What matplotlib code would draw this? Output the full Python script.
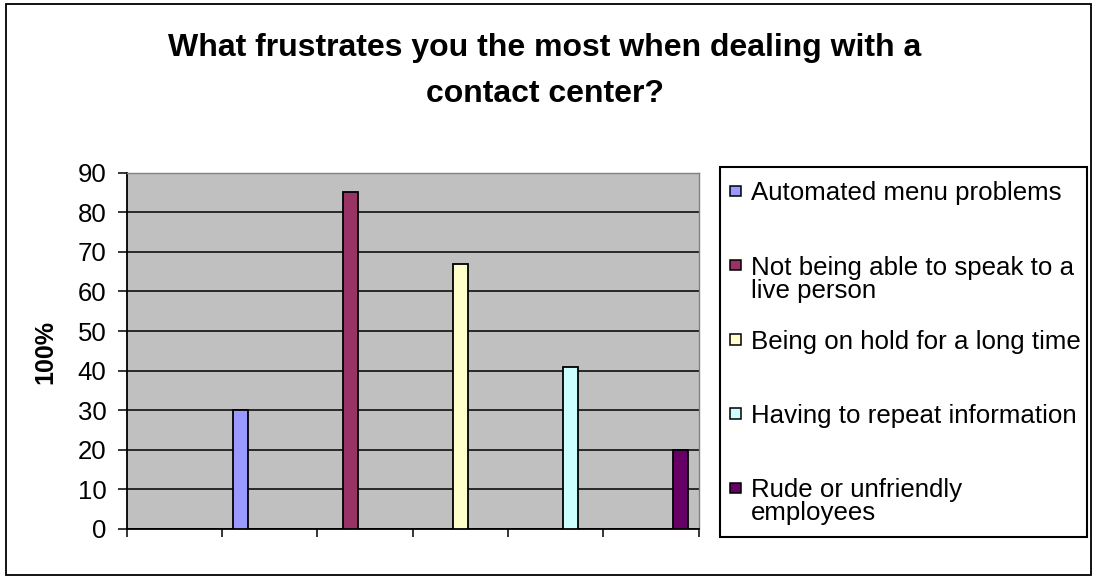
import numpy as np
import matplotlib
matplotlib.use("Agg")
import matplotlib.pyplot as plt
from matplotlib.patches import Rectangle

plt.rcParams['font.family'] = ['Liberation Sans', 'DejaVu Sans']

title = "What frustrates you the most when dealing with a\ncontact center?"
y_label = "100%"
n_categories = 6
series_names = [
    "Automated menu problems",
    "Not being able to speak to a\nlive person",
    "Being on hold for a long time",
    "Having to repeat information",
    "Rude or unfriendly\nemployees",
]
nan = np.nan
automated_menu = [nan, 30, nan, nan, nan, nan]
no_live_person = [nan, nan, 85, nan, nan, nan]
on_hold = [nan, nan, nan, 67, nan, nan]
repeat_info = [nan, nan, nan, nan, 41, nan]
rude_staff = [nan, nan, nan, nan, nan, 20]
series_values = [automated_menu, no_live_person, on_hold, repeat_info, rude_staff]
series_colors = ["#9999FF", "#993366", "#FFFFCC", "#CCFFFF", "#660066"]
y_ticks = [0, 10, 20, 30, 40, 50, 60, 70, 80, 90]

W, H = 1097, 578
fig = plt.figure(figsize=(W / 100, H / 100), dpi=100)

# outer chart border
fig.patches.append(Rectangle((6 / W, 3 / H), (1091 - 6) / W, (574 - 3) / H,
                             transform=fig.transFigure, fill=False,
                             edgecolor="black", linewidth=1.3))

left, right, top, bottom = 126.7, 698.7, 172.7, 529.0
ax = fig.add_axes([left / W, 1 - bottom / H, (right - left) / W, (bottom - top) / H])
ax.set_facecolor("#C0C0C0")

n_series = len(series_values)
gap = 1.5
bw = 1.0 / (n_series + gap)
cats = np.arange(n_categories)
for i, (vals, col) in enumerate(zip(series_values, series_colors)):
    vals = np.array(vals, dtype=float)
    m = np.isfinite(vals)
    x = cats + 0.5 + (i - (n_series - 1) / 2) * bw
    ax.bar(x[m], vals[m], width=bw, color=col, edgecolor="black", linewidth=1.3, zorder=3)

ax.set_xlim(0, n_categories)
ax.set_ylim(0, 90)
ax.set_yticks(y_ticks)
ax.set_xticks(np.arange(n_categories + 1))
ax.set_xticklabels([])
ax.yaxis.grid(True, color="black", linewidth=1.1, zorder=1)
ax.set_axisbelow(True)
ax.tick_params(axis='y', direction='out', length=6.5, width=1.1, labelsize=18.5, pad=8)
ax.tick_params(axis='x', direction='out', length=6, width=1.1)
for s in ["top", "right"]:
    ax.spines[s].set_color("#808080")
    ax.spines[s].set_linewidth(1.0)
for s in ["left", "bottom"]:
    ax.spines[s].set_color("black")
    ax.spines[s].set_linewidth(1.3)

fig.text(45 / W, 1 - 352 / H, y_label, rotation=90, ha="center", va="center",
         fontsize=18, fontweight="bold")

fig.text(545 / W, 1 - 71 / H, title, ha="center", va="center", fontsize=23,
         fontweight="bold", linespacing=1.72)

# legend box
lx0, ly0, lx1, ly1 = 720, 167, 1087, 537
fig.patches.append(Rectangle((lx0 / W, 1 - ly1 / H), (lx1 - lx0) / W, (ly1 - ly0) / H,
                             transform=fig.transFigure, facecolor="white",
                             edgecolor="black", linewidth=1.5, zorder=5))
first_center = 191
step = 74.2
sq = 10.5
fs = 18.6
for i, (name, col) in enumerate(zip(series_names, series_colors)):
    yc = first_center + i * step
    fig.patches.append(Rectangle((730 / W, 1 - (yc + sq / 2) / H), sq / W, sq / H,
                                 transform=fig.transFigure, facecolor=col,
                                 edgecolor="black", linewidth=1.1, zorder=6))
    fig.text(751 / W, 1 - (yc - 9.6) / H, name, ha="left", va="top",
             fontsize=fs, linespacing=0.95, zorder=7)

fig.savefig("out.png", dpi=100)
